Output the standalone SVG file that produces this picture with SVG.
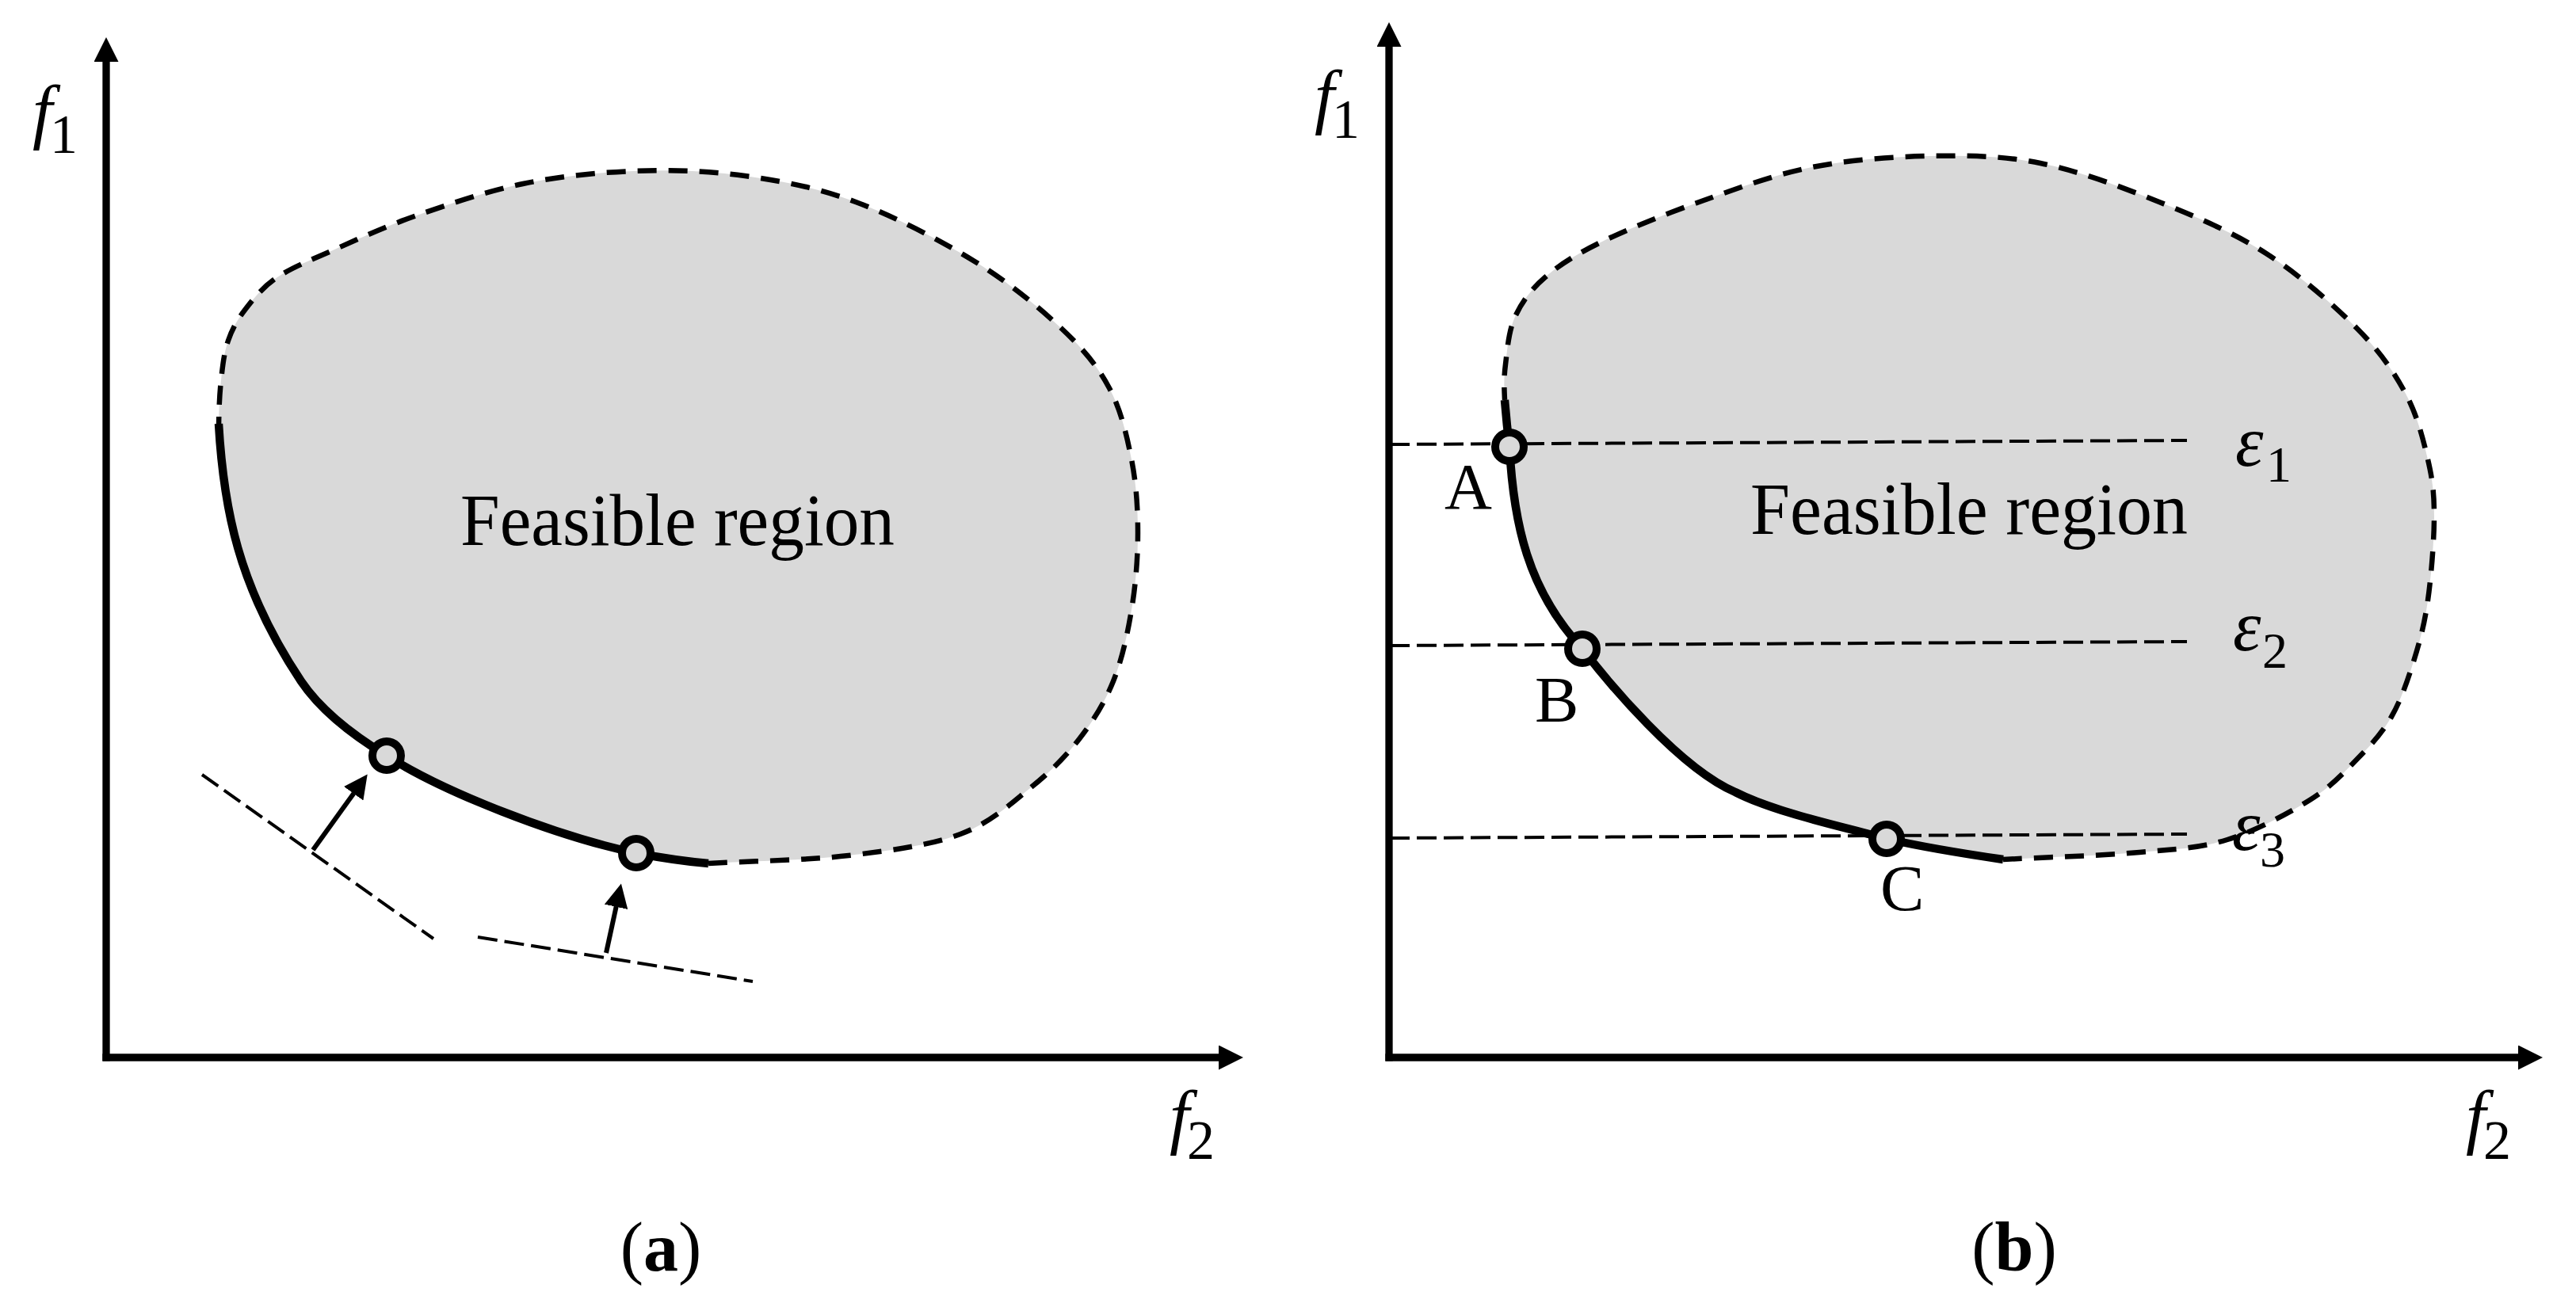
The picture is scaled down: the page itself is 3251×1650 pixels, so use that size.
<svg xmlns="http://www.w3.org/2000/svg" width="3251" height="1650" viewBox="0 0 3251 1650">
<style>
.bg{fill:#ffffff}
.region{fill:#d9d9d9;stroke:none}
.axis{fill:none;stroke:#000;stroke-width:9.3;stroke-linecap:butt}
.outline{fill:none;stroke:#000;stroke-width:6.5;stroke-dasharray:24 15}
.front{fill:none;stroke:#000;stroke-width:10.5;stroke-linecap:butt;stroke-linejoin:round}
.thin{fill:none;stroke:#000;stroke-width:4;stroke-dasharray:25 9}
.arr{fill:none;stroke:#000;stroke-width:6}
.pt{fill:#d9d9d9;stroke:#000;stroke-width:10}
.t{font-family:"Liberation Serif","Times New Roman",serif;fill:#000}
.it{font-style:italic}
.b{font-weight:bold}
</style>
<defs>
<marker id="axHead" markerUnits="userSpaceOnUse" markerWidth="31" markerHeight="31" refX="0" refY="15.5" orient="auto">
<path d="M0,0 L31,15.5 L0,31 Z" fill="#000"/>
</marker>
<marker id="smHead" markerUnits="userSpaceOnUse" markerWidth="30" markerHeight="30" refX="0.5" refY="15" orient="auto">
<path d="M0,0 L30,15 L0,30 Z" fill="#000"/>
</marker>
</defs>
<rect class="bg" x="0" y="0" width="3251" height="1650"/>

<!-- Panel (a) -->
<g id="regionA">
<path class="region" d="M276,535 C282,640 300,740 380,860 C405,897 445,928 488,954 C560,1000 700,1055 803,1077 C840,1084 870,1088 894,1090 C953,1086.7 1018,1086.2 1071,1080 C1124,1073.8 1173.8,1067.2 1212,1053 C1250.2,1038.8 1275,1015 1300,995 C1325,975 1344.5,955.5 1362,933 C1379.5,910.5 1394,887.2 1405,860 C1416,832.8 1422.8,801.2 1428,770 C1433.2,738.8 1436,704.7 1436,673 C1436,641.3 1434,610.5 1428,580 C1422,549.5 1414.7,517.5 1400,490 C1385.3,462.5 1368.3,441.7 1340,415 C1311.7,388.3 1273.3,356.7 1230,330 C1186.7,303.3 1128.3,273 1080,255 C1031.7,237 986.7,228.5 940,222 C893.3,215.5 846.7,214.3 800,216 C753.3,217.7 705.7,222.7 660,232 C614.3,241.3 566,258 526,272 C486,286 449.3,303 420,316 C390.7,329 368.3,337.7 350,350 C331.7,362.3 320.3,376.7 310,390 C299.7,403.3 293.2,415 288,430 C282.8,445 281,461.7 279,480 C277,498.3 276.2,520 276,540 Z"/>
<path class="outline" d="M894,1090 C953,1086.7 1018,1086.2 1071,1080 C1124,1073.8 1173.8,1067.2 1212,1053 C1250.2,1038.8 1275,1015 1300,995 C1325,975 1344.5,955.5 1362,933 C1379.5,910.5 1394,887.2 1405,860 C1416,832.8 1422.8,801.2 1428,770 C1433.2,738.8 1436,704.7 1436,673 C1436,641.3 1434,610.5 1428,580 C1422,549.5 1414.7,517.5 1400,490 C1385.3,462.5 1368.3,441.7 1340,415 C1311.7,388.3 1273.3,356.7 1230,330 C1186.7,303.3 1128.3,273 1080,255 C1031.7,237 986.7,228.5 940,222 C893.3,215.5 846.7,214.3 800,216 C753.3,217.7 705.7,222.7 660,232 C614.3,241.3 566,258 526,272 C486,286 449.3,303 420,316 C390.7,329 368.3,337.7 350,350 C331.7,362.3 320.3,376.7 310,390 C299.7,403.3 293.2,415 288,430 C282.8,445 281,461.7 279,480 C277,498.3 276.2,520 276,540"/>
<path class="front" d="M276,535 C282,640 300,740 380,860 C405,897 445,928 488,954 C560,1000 700,1055 803,1077 C840,1084 870,1088 894,1090"/>
<text class="t" x="581" y="688" font-size="93" textLength="548" lengthAdjust="spacingAndGlyphs">Feasible region</text>
</g>
<g id="tangentsA">
<line class="thin" x1="255" y1="978" x2="547" y2="1185"/>
<line class="thin" x1="603" y1="1183" x2="950" y2="1239"/>
</g>
<g id="arrowsA">
<line class="arr" x1="395" y1="1073" x2="446.5" y2="1001.4" marker-end="url(#smHead)"/>
<line class="arr" x1="765" y1="1203" x2="777.7" y2="1144.3" marker-end="url(#smHead)"/>
</g>
<g id="pointsA">
<circle class="pt" cx="488" cy="954" r="18"/>
<circle class="pt" cx="803" cy="1077" r="18"/>
</g>
<g id="axesA">
<line class="axis" x1="134" y1="1339.6" x2="134" y2="78" marker-end="url(#axHead)"/>
<line class="axis" x1="129.4" y1="1335" x2="1538" y2="1335" marker-end="url(#axHead)"/>
<text class="t it" x="41" y="171" font-size="90">f<tspan class="t" font-style="normal" font-size="70" x="63" y="193">1</tspan></text>
<text class="t it" x="1476" y="1440" font-size="90">f<tspan font-style="normal" font-size="70" x="1498" y="1463">2</tspan></text>
</g>
<g id="labelA">
<text class="t" x="834" y="1604" font-size="88" text-anchor="middle">(<tspan class="b">a</tspan>)</text>
</g>

<!-- Panel (b) -->
<g id="regionB">
<path class="region" d="M1899,505 C1901,530 1903,548 1905,564 C1910,660 1928,745 1997,819 C2030,862 2120,970 2190,1000 C2243,1027 2333,1045 2381,1059 C2430,1070 2480,1078 2528,1085 C2585.3,1082 2652.8,1080.2 2700,1076 C2747.2,1071.8 2775.2,1071 2811,1060 C2846.8,1049 2887.7,1027 2915,1010 C2942.3,993 2957.8,975.5 2975,958 C2992.2,940.5 3006.2,925.5 3018,905 C3029.8,884.5 3038.3,859.5 3046,835 C3053.7,810.5 3059.7,788.5 3064,758 C3068.3,727.5 3072,681.7 3072,652 C3072,622.3 3070,605.8 3064,580 C3058,554.2 3050.8,524.5 3036,497 C3021.2,469.5 3004.3,444.5 2975,415 C2945.7,385.5 2901.7,346.7 2860,320 C2818.3,293.3 2772.5,274 2725,255 C2677.5,236 2623.3,215.7 2575,206 C2526.7,196.3 2483,196.2 2435,197 C2387,197.8 2334.5,201.7 2287,211 C2239.5,220.3 2194.2,237.3 2150,253 C2105.8,268.7 2055.3,288.8 2022,305 C1988.7,321.2 1968.3,334.2 1950,350 C1931.7,365.8 1920.3,381.7 1912,400 C1903.7,418.3 1902.2,442.5 1900,460 C1897.8,477.5 1898.2,487.7 1899,505 Z"/>
<path class="outline" d="M2528,1085 C2585.3,1082 2652.8,1080.2 2700,1076 C2747.2,1071.8 2775.2,1071 2811,1060 C2846.8,1049 2887.7,1027 2915,1010 C2942.3,993 2957.8,975.5 2975,958 C2992.2,940.5 3006.2,925.5 3018,905 C3029.8,884.5 3038.3,859.5 3046,835 C3053.7,810.5 3059.7,788.5 3064,758 C3068.3,727.5 3072,681.7 3072,652 C3072,622.3 3070,605.8 3064,580 C3058,554.2 3050.8,524.5 3036,497 C3021.2,469.5 3004.3,444.5 2975,415 C2945.7,385.5 2901.7,346.7 2860,320 C2818.3,293.3 2772.5,274 2725,255 C2677.5,236 2623.3,215.7 2575,206 C2526.7,196.3 2483,196.2 2435,197 C2387,197.8 2334.5,201.7 2287,211 C2239.5,220.3 2194.2,237.3 2150,253 C2105.8,268.7 2055.3,288.8 2022,305 C1988.7,321.2 1968.3,334.2 1950,350 C1931.7,365.8 1920.3,381.7 1912,400 C1903.7,418.3 1902.2,442.5 1900,460 C1897.8,477.5 1898.2,487.7 1899,505"/>
<text class="t" x="2209" y="674" font-size="93" textLength="552" lengthAdjust="spacingAndGlyphs">Feasible region</text>
</g>
<g id="epsilonLines">
<line class="thin" x1="1754" y1="561" x2="2760" y2="556"/>
<line class="thin" x1="1754" y1="815" x2="2760" y2="810"/>
<line class="thin" x1="1754" y1="1058" x2="2760" y2="1053"/>
</g>
<g id="frontB">
<path class="front" d="M1899,505 C1901,530 1903,548 1905,564 C1910,660 1928,745 1997,819 C2030,862 2120,970 2190,1000 C2243,1027 2333,1045 2381,1059 C2430,1070 2480,1078 2528,1085"/>
</g>
<g id="pointA">
<circle class="pt" cx="1905" cy="564" r="18"/>
<text class="t" x="1823" y="642" font-size="83">A</text>
</g>
<g id="pointB">
<circle class="pt" cx="1997" cy="819" r="18"/>
<text class="t" x="1937" y="911" font-size="83">B</text>
</g>
<g id="pointC">
<circle class="pt" cx="2381" cy="1059" r="18"/>
<text class="t" x="2373" y="1149" font-size="83">C</text>
</g>
<g id="epsilonLabels">
<text class="t it" x="2821" y="588" font-size="90">ε<tspan font-style="normal" font-size="64" x="2860" y="608">1</tspan></text>
<text class="t it" x="2818" y="821" font-size="90">ε<tspan font-style="normal" font-size="64" x="2855" y="843">2</tspan></text>
<text class="t it" x="2817" y="1073" font-size="90">ε<tspan font-style="normal" font-size="64" x="2852" y="1094">3</tspan></text>
</g>
<g id="axesB">
<line class="axis" x1="1753" y1="1339.6" x2="1753" y2="59" marker-end="url(#axHead)"/>
<line class="axis" x1="1748.4" y1="1335" x2="3178" y2="1335" marker-end="url(#axHead)"/>
<text class="t it" x="1659" y="152" font-size="90">f<tspan font-style="normal" font-size="70" x="1681" y="174">1</tspan></text>
<text class="t it" x="3112" y="1440" font-size="90">f<tspan font-style="normal" font-size="70" x="3134" y="1463">2</tspan></text>
</g>
<g id="labelB">
<text class="t" x="2542" y="1604" font-size="88" text-anchor="middle">(<tspan class="b">b</tspan>)</text>
</g>
</svg>
